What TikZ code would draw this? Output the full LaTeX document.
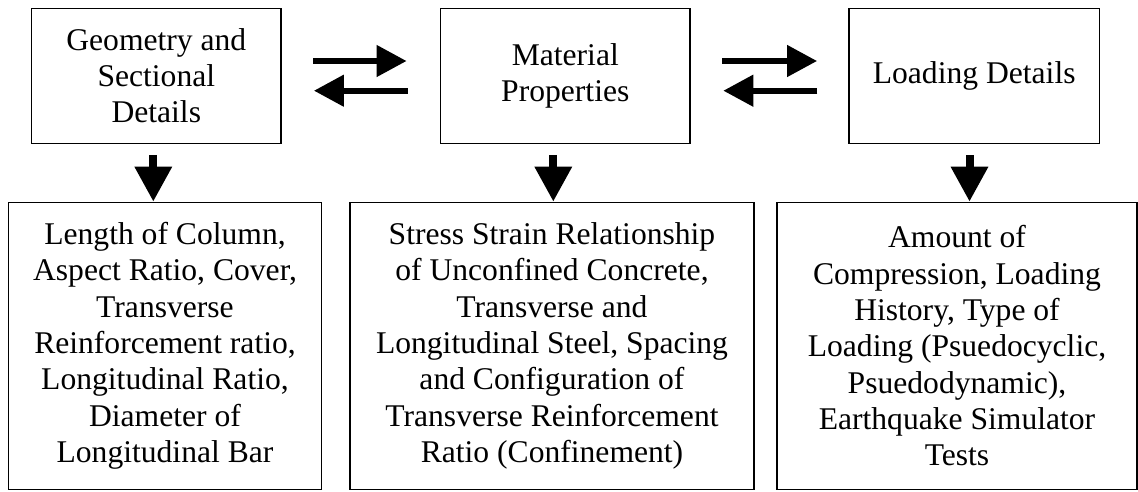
\documentclass[tikz,border=0pt]{standalone}
\usepackage{fontspec}
\setmainfont{Liberation Serif}
\usetikzlibrary{arrows.meta}
\begin{document}
\begin{tikzpicture}[x=1pt,y=-1pt]
\tikzset{
  box/.style={draw, line width=1.3pt, align=center},
  topbox/.style={box, minimum height=135pt},
  botbox/.style={box, minimum height=287pt},
  harrow/.style={line width=6pt, -{Triangle[length=30pt,width=30.5pt]}},
  varrow/.style={line width=8pt, -{Triangle[length=35pt,width=35.5pt]}}}
\useasboundingbox (0,0) rectangle (1138,491);
\node[topbox, minimum width=249.3pt, font=\fontsize{31.6}{36.3}\selectfont] (geo) at (156.3,75.8) {Geometry and\\Sectional\\Details};
\node[topbox, minimum width=249.3pt, font=\fontsize{31.6}{36.3}\selectfont] (mat) at (565.3,75.8) {Material\\Properties};
\node[topbox, minimum width=250.3pt, font=\fontsize{31.6}{36.3}\selectfont] (load) at (974.2,75.8) {Loading Details};
\node[botbox, minimum width=313.4pt, font=\fontsize{31.6}{36.3}\selectfont] (geoD) at (165,345.8) {Length of Column,\\Aspect Ratio, Cover,\\Transverse\\Reinforcement ratio,\\Longitudinal Ratio,\\Diameter of\\Longitudinal Bar};
\node[botbox, minimum width=404pt, font=\fontsize{31.6}{36.3}\selectfont] (matD) at (552,345.8) {Stress Strain Relationship\\of Unconfined Concrete,\\Transverse and\\Longitudinal Steel, Spacing\\and Configuration of\\Transverse Reinforcement\\Ratio (Confinement)};
\node[botbox, minimum width=360pt, font=\fontsize{31.6}{36.3}\selectfont] (loadD) at (957,345.8) {Amount of\\Compression, Loading\\History, Type of\\Loading (Psuedocyclic,\\Psuedodynamic),\\Earthquake Simulator\\Tests};
% horizontal arrows
\draw[harrow, shorten <=31.7pt, shorten >=33.4pt] ([yshift=14.8pt]geo.east) -- ([yshift=14.8pt]mat.west);
\draw[harrow, shorten <=32.4pt, shorten >=32.3pt] ([yshift=-14.9pt]mat.west) -- ([yshift=-14.9pt]geo.east);
\draw[harrow, shorten <=31.7pt, shorten >=31.3pt] ([yshift=14.8pt]mat.east) -- ([yshift=14.8pt]load.west);
\draw[harrow, shorten <=31pt, shorten >=32.7pt] ([yshift=-14.9pt]load.west) -- ([yshift=-14.9pt]mat.east);
% vertical arrows
\draw[varrow, shorten <=11pt] ([xshift=-3pt]geo.south) -- ([xshift=-3pt]geo.south |- geoD.north);
\draw[varrow, shorten <=11pt] ([xshift=-12pt]mat.south) -- ([xshift=-12pt]mat.south |- matD.north);
\draw[varrow, shorten <=11.5pt] ([xshift=-4.7pt]load.south) -- ([xshift=-4.7pt]load.south |- loadD.north);
\end{tikzpicture}
\end{document}
